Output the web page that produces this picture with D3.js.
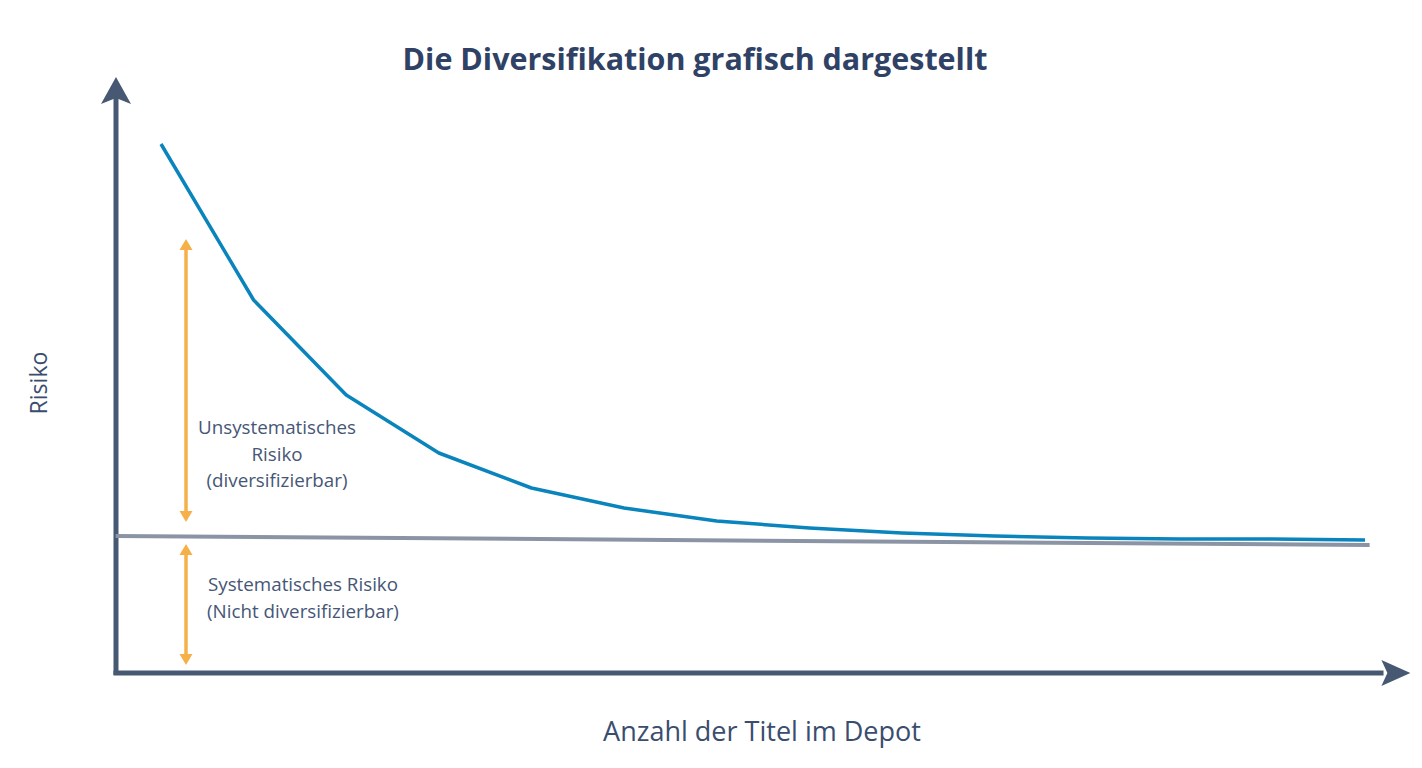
<!DOCTYPE html>
<html><head><meta charset="utf-8">
<script src="https://cdn.jsdelivr.net/npm/d3@7"></script>
<style>html,body{margin:0;padding:0;background:#fff;}svg{display:block;}</style>
</head><body>
<script>
// Data
const titles = [1,2,3,4,5,6,7,8,9,10,11,12,13,14];
const totalRisk = [529,373,278,220,185,165,152,145,140,137,135,134,134,133];
const systematicN = [0.51, 14.05];
const systematicRisk = [137, 128];
const chartTitle = "Die Diversifikation grafisch dargestellt";
const xLabel = "Anzahl der Titel im Depot";
const yLabel = "Risiko";
const unsysLabel = ["Unsystematisches","Risiko","(diversifizierbar)"];
const sysLabel = ["Systematisches Risiko","(Nicht diversifizierbar)"];

const W=1422,H=768;
const svg=d3.select("body").append("svg").attr("width",W).attr("height",H);
const font="'Open Sans', sans-serif";
const x=d3.scaleLinear().domain([1,14]).range([161,1365]);
const y=d3.scaleLinear().domain([0,600]).range([673,73]);
const axisCol="#475872";

function fitText(sel,target){
  const w=sel.node().getComputedTextLength();
  const fs=+sel.attr("font-size");
  sel.attr("font-size",fs*target/w);
  return sel;
}

// title
fitText(svg.append("text").attr("x",695).attr("y",70).attr("text-anchor","middle")
 .attr("font-family",font).attr("font-weight","bold").attr("font-size",29)
 .attr("fill","#2f4266").text(chartTitle),585);

// axes
const x0=x(0.514);
svg.append("line").attr("x1",x0).attr("x2",x0).attr("y1",y(-2)).attr("y2",y(575))
 .attr("stroke",axisCol).attr("stroke-width",5);
svg.append("path").attr("d",`M${x0},${y(596)} L${x0+15},${y(569)} L${x0},${y(575)} L${x0-15},${y(569)} Z`).attr("fill",axisCol);
svg.append("line").attr("x1",x0-2.5).attr("x2",x(14.2)).attr("y1",y(0)).attr("y2",y(0))
 .attr("stroke",axisCol).attr("stroke-width",5);
const xe=x(14.49);
svg.append("path").attr("d",`M${xe},${y(0)} L${xe-29},${y(13)} L${xe-23},${y(0)} L${xe-29},${y(-13)} Z`).attr("fill",axisCol);

// systematic line
svg.append("path").datum(systematicN.map((n,i)=>[n,systematicRisk[i]]))
 .attr("d",d3.line().x(d=>x(d[0])).y(d=>y(d[1])))
 .attr("fill","none").attr("stroke","#8a94a4").attr("stroke-width",4);

// total risk curve
svg.append("path").datum(titles.map((n,i)=>[n,totalRisk[i]]))
 .attr("d",d3.line().x(d=>x(d[0])).y(d=>y(d[1])))
 .attr("fill","none").attr("stroke","#0a84bd").attr("stroke-width",3.5).attr("stroke-linejoin","round");

// orange arrows
const ox=186, oc="#f5b04a";
function dblArrow(yTop,yBot){
  svg.append("line").attr("x1",ox).attr("x2",ox).attr("y1",yTop+8).attr("y2",yBot-8).attr("stroke",oc).attr("stroke-width",3.5);
  svg.append("path").attr("d",`M${ox},${yTop} L${ox+6.5},${yTop+11} L${ox-6.5},${yTop+11} Z`).attr("fill",oc);
  svg.append("path").attr("d",`M${ox},${yBot} L${ox+6.5},${yBot-11} L${ox-6.5},${yBot-11} Z`).attr("fill",oc);
}
dblArrow(239,522);
dblArrow(544,665);

const tc="#465676";
const u0=svg.append("text").attr("x",277).attr("y",434).attr("text-anchor","middle")
 .attr("font-family",font).attr("font-size",17).attr("fill",tc).text(unsysLabel[0]);
fitText(u0,158);
const ufs=u0.attr("font-size");
unsysLabel.slice(1).forEach((t,i)=>svg.append("text").attr("x",277).attr("y",434+(i+1)*26.5).attr("text-anchor","middle")
 .attr("font-family",font).attr("font-size",ufs).attr("fill",tc).text(t));
sysLabel.forEach((t,i)=>svg.append("text").attr("x",303).attr("y",591+i*26.5).attr("text-anchor","middle")
 .attr("font-family",font).attr("font-size",ufs).attr("fill",tc).text(t));

fitText(svg.append("text").attr("transform","translate(47,383) rotate(-90)").attr("text-anchor","middle")
 .attr("font-family",font).attr("font-size",23).attr("fill","#3a4d6e").text(yLabel),63);
fitText(svg.append("text").attr("x",762).attr("y",741).attr("text-anchor","middle")
 .attr("font-family",font).attr("font-size",25).attr("fill","#3a4d6e").text(xLabel),318);
</script>
</body></html>
